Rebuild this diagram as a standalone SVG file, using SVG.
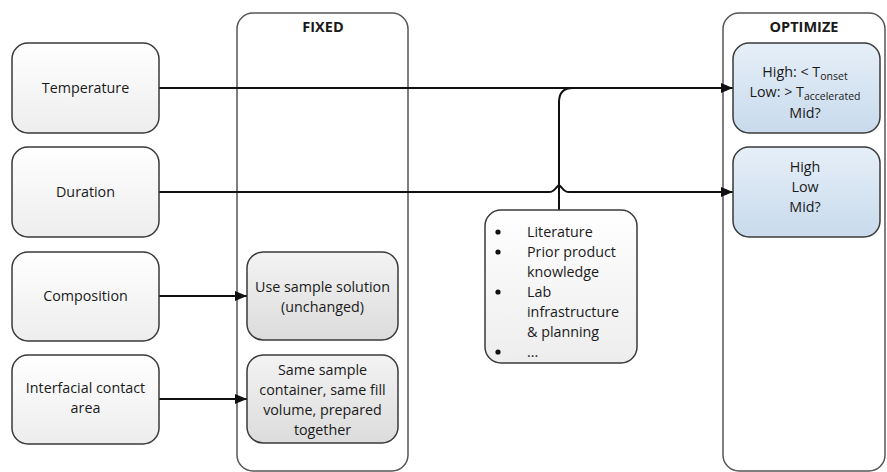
<svg xmlns="http://www.w3.org/2000/svg" width="887" height="472" viewBox="0 0 887 472">
<defs>
<linearGradient id="gw" x1="0" y1="0" x2="0" y2="1"><stop offset="0" stop-color="#ffffff"/><stop offset="1" stop-color="#ededed"/></linearGradient>
<linearGradient id="gg" x1="0" y1="0" x2="0" y2="1"><stop offset="0" stop-color="#f3f3f3"/><stop offset="1" stop-color="#dcdcdc"/></linearGradient>
<linearGradient id="gb" x1="0" y1="0" x2="0" y2="1"><stop offset="0" stop-color="#e6eff8"/><stop offset="1" stop-color="#c8daec"/></linearGradient>
<marker id="ah" markerWidth="12" markerHeight="10" refX="12" refY="5" orient="auto" markerUnits="userSpaceOnUse"><path d="M0,0 L12,5 L0,10 Z" fill="#111"/></marker>
<style>
.box{stroke:#3a3a3a;stroke-width:1.5}
.w{fill:url(#gw)}
.g{fill:url(#gg)}
.b{fill:url(#gb)}
.c{fill:#fff;stroke:#555;stroke-width:1.5}
text{font-family:"Open Sans","Liberation Sans",sans-serif;font-size:14.3px;fill:#1a1a1a}
.m{text-anchor:middle}
.h{font-weight:bold;font-size:14.5px}
.ln{fill:none;stroke:#111;stroke-width:2}
.sub{font-size:10.5px}
</style>
</defs>
<g id="fixed-col"><rect class="c" x="237" y="13" width="171" height="458" rx="16"/><text class="m h" x="323" y="32">FIXED</text></g>
<g id="optimize-col"><rect class="c" x="723" y="13" width="162" height="458" rx="16"/><text class="m h" x="804" y="32">OPTIMIZE</text></g>
<g id="connectors">
<path class="ln" d="M159,88 H733" marker-end="url(#ah)"/>
<path class="ln" d="M159,192 H549 Q553,192 556,188 L559,185 L562,188 Q565,192 569,192 H733" marker-end="url(#ah)"/>
<path class="ln" d="M559,210 V102 Q559,88 573,88"/>
<path class="ln" d="M159,296 H247" marker-end="url(#ah)"/>
<path class="ln" d="M159,399 H247" marker-end="url(#ah)"/>
</g>
<g id="temperature"><rect class="box w" x="12" y="43" width="147" height="90" rx="16"/><text class="m" x="85.5" y="93">Temperature</text></g>
<g id="duration"><rect class="box w" x="12" y="147" width="147" height="90" rx="16"/><text class="m" x="85.5" y="197">Duration</text></g>
<g id="composition"><rect class="box w" x="12" y="252" width="147" height="89" rx="16"/><text class="m" x="85.5" y="301">Composition</text></g>
<g id="interfacial"><rect class="box w" x="12" y="355" width="147" height="89" rx="16"/><text class="m" x="85.5" y="393">Interfacial contact</text><text class="m" x="85.5" y="413">area</text></g>
<g id="use-sample"><rect class="box g" x="247" y="252" width="151" height="88" rx="16"/><text class="m" x="322.5" y="292">Use sample solution</text><text class="m" x="322.5" y="312">(unchanged)</text></g>
<g id="same-container"><rect class="box g" x="247" y="355" width="151" height="88" rx="16"/><text class="m" x="322.5" y="375">Same sample</text><text class="m" x="322.5" y="395">container, same fill</text><text class="m" x="322.5" y="415">volume, prepared</text><text class="m" x="322.5" y="435">together</text></g>
<g id="opt-temp"><rect class="box b" x="733" y="43" width="147" height="90" rx="16"/><text class="m" x="805" y="77">High: &lt; T<tspan class="sub" dy="3">onset</tspan></text><text class="m" x="805" y="97">Low: &gt; T<tspan class="sub" dy="3">accelerated</tspan></text><text class="m" x="805" y="118">Mid?</text></g>
<g id="opt-dur"><rect class="box b" x="733" y="147" width="147" height="90" rx="16"/><text class="m" x="805" y="172">High</text><text class="m" x="805" y="192">Low</text><text class="m" x="805" y="212">Mid?</text></g>
<g id="knowledge"><rect class="box w" x="485" y="210" width="152" height="153" rx="16"/>
<g fill="#111"><circle cx="498" cy="232" r="2.6"/><circle cx="498" cy="252" r="2.6"/><circle cx="498" cy="292" r="2.6"/><circle cx="498" cy="352" r="2.6"/></g>
<text x="527" y="237">Literature</text><text x="527" y="257">Prior product</text><text x="527" y="277">knowledge</text><text x="527" y="297">Lab</text><text x="527" y="317">infrastructure</text><text x="527" y="337">&amp; planning</text><text x="527" y="357">...</text></g>
</svg>
